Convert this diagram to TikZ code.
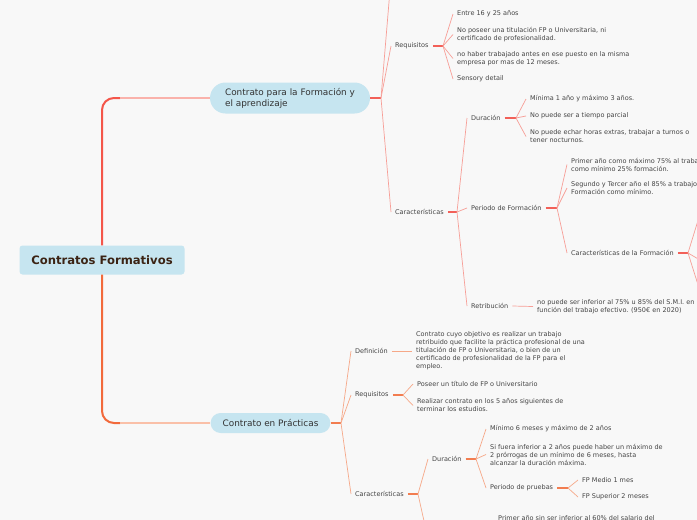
\documentclass[tikz,border=0pt]{standalone}
\usepackage{fontspec}
\setmainfont{DejaVu Sans}
\usetikzlibrary{positioning}
\definecolor{PaperBg}{HTML}{F8F8F8}
\definecolor{TopicBlue}{HTML}{C6E5F0}
\definecolor{RootInk}{HTML}{3B2314}
\definecolor{LeafInk}{HTML}{444444}
\definecolor{TrunkRed}{HTML}{F4564A}
\definecolor{TrunkOrange}{HTML}{F26A3C}
\definecolor{LinkRed}{HTML}{FAB2AB}
\definecolor{LinkOrange}{HTML}{FAC0A8}
\definecolor{TwigRed}{HTML}{F79E97}
\definecolor{TwigOrange}{HTML}{F6A888}
\definecolor{StubRed}{HTML}{F26058}
\definecolor{StubOrange}{HTML}{F27D50}

\begin{document}
\begin{tikzpicture}[
  x=1pt, y=-1pt,
  font=\fontsize{6.5}{8}\selectfont,
  root/.style={fill=TopicBlue, rounded corners=3pt, text=RootInk,
               font=\fontsize{11.6}{13}\selectfont\bfseries,
               minimum width=165pt, minimum height=29pt},
  topic/.style={fill=TopicBlue, rounded corners=#1, text=black!80, align=left,
                font=\fontsize{8.9}{11}\selectfont, inner xsep=13pt},
  leaf/.style={anchor=west, align=left, text=LeafInk, inner xsep=4pt, inner ysep=1pt},
  trunk/.style={draw=#1, line width=2pt, rounded corners=12pt},
  link/.style={draw=#1, line width=1.2pt},
  stub/.style={draw=#1, line width=1.3pt},
  twig/.style={draw=#1, line width=0.7pt},
]
  \clip (0,0) rectangle (697,520);
  \fill[PaperBg] (0,0) rectangle (697,520);

  \node[root] (cf) at (102,260) {Contratos Formativos};
  \node[topic=15.5pt, minimum width=160pt, minimum height=31pt] (tfa) at (290,98)
    {Contrato para la Formación y\\el aprendizaje};
  \node[topic=10pt, minimum width=119pt, minimum height=20pt, inner xsep=12pt] (tpr)
    at (270.5,423) {Contrato en Prácticas};

  \coordinate (kfa) at (120,98);
  \coordinate (kpr) at (120,423);
  \draw[trunk=TrunkRed] (cf.north) |- (kfa);
  \draw[link=LinkRed] (kfa) -- (tfa.west);
  \draw[trunk=TrunkOrange] (cf.south) |- (kpr);
  \draw[link=LinkOrange] (kpr) -- (tpr.west);

  % formacion y aprendizaje
  \coordinate (j1) at (381,98);
  \coordinate (up1) at (390,-10);
  \node[leaf] (req1) at (391,46) {Requisitos};
  \node[leaf] (car1) at (391,212) {Características};
  \draw[stub=StubRed] (tfa.east) -- (j1);
  \foreach \c in {req1.west, car1.west, up1} \draw[twig=TwigRed] (j1) -- (\c);

  \coordinate (j2) at (443,46);
  \node[leaf] (r1) at (453,14) {Entre 16 y 25 años};
  \node[leaf] (r2) at (453,34.5) {No poseer una titulación FP o Universitaria, ni\\certificado de profesionalidad.};
  \node[leaf] (r3) at (453,58.5) {no haber trabajado antes en ese puesto en la misma\\empresa por mas de 12 meses.};
  \node[leaf] (r4) at (453,79) {Sensory detail};
  \draw[stub=StubRed] (req1.east) -- (j2);
  \foreach \c in {r1,r2,r3,r4} \draw[twig=TwigRed] (j2) -- (\c.west);

  \coordinate (j3) at (457,212);
  \node[leaf] (dur1) at (467,118) {Duración};
  \node[leaf] (per1) at (467,208) {Periodo de Formación};
  \node[leaf] (ret1) at (467,306) {Retribución};
  \draw[stub=StubRed] (car1.east) -- (j3);
  \foreach \c in {dur1,per1,ret1} \draw[twig=TwigRed] (j3) -- (\c.west);

  \coordinate (j4) at (516,118);
  \node[leaf] (d1) at (526,99) {Mínima 1 año y máximo 3 años.};
  \node[leaf] (d2) at (526,116) {No puede ser a tiempo parcial};
  \node[leaf] (d3) at (526,136.5) {No puede echar horas extras, trabajar a turnos o\\tener nocturnos.};
  \draw[stub=StubRed] (dur1.east) -- (j4);
  \foreach \c in {d1,d2,d3} \draw[twig=TwigRed] (j4) -- (\c.west);

  \coordinate (j5) at (557,208);
  \node[leaf] (p1) at (567,164.5) {Primer año como máximo 75\% al trabajo y\\como mínimo 25\% formación.};
  \node[leaf] (p2) at (567,188) {Segundo y Tercer año el 85\% a trabajo y\\Formación como mínimo.};
  \node[leaf] (p3) at (567,253) {Características de la Formación};
  \draw[stub=StubRed] (per1.east) -- (j5);
  \foreach \c in {p1,p2,p3} \draw[twig=TwigRed] (j5) -- (\c.west);

  \coordinate (j6) at (688,253);
  \coordinate (o1) at (700,214);
  \coordinate (o2) at (700,260);
  \coordinate (o3) at (700,291);
  \draw[stub=StubRed] (p3.east) -- (j6);
  \foreach \c in {o1,o2,o3} \draw[twig=TwigRed] (j6) -- (\c);

  \node[leaf] (rt) at (533,306.5) {no puede ser inferior al 75\% u 85\% del S.M.I. en\\función del trabajo efectivo. (950€ en 2020)};
  \draw[twig=TwigRed] (ret1.east) -- (rt.west);

  % practicas
  \coordinate (j7) at (341,423);
  \node[leaf] (def2) at (351,351) {Definición};
  \node[leaf] (req2) at (351,395) {Requisitos};
  \node[leaf] (car2) at (351,494) {Características};
  \draw[stub=StubOrange] (tpr.east) -- (j7);
  \foreach \c in {def2,req2,car2} \draw[twig=TwigOrange] (j7) -- (\c.west);

  \node[leaf] (dft) at (412,351) {Contrato cuyo objetivo es realizar un trabajo\\retribuido que facilite la práctica profesional de una\\titulación de FP o Universitaria, o bien de un\\certificado de profesionalidad de la FP para el\\empleo.};
  \draw[twig=TwigOrange] (def2.east) -- (dft.west);

  \coordinate (j8) at (403,395);
  \node[leaf] (q1) at (413,384) {Poseer un título de FP o Universitario};
  \node[leaf] (q2) at (413,405.5) {Realizar contrato en los 5 años siguientes de\\terminar los estudios.};
  \draw[stub=StubOrange] (req2.east) -- (j8);
  \foreach \c in {q1,q2} \draw[twig=TwigOrange] (j8) -- (\c.west);

  \coordinate (j9) at (418,494);
  \coordinate (dn) at (426,530);
  \node[leaf] (dur2) at (428,459) {Duración};
  \draw[stub=StubOrange] (car2.east) -- (j9);
  \foreach \c in {dur2.west,dn} \draw[twig=TwigOrange] (j9) -- (\c);

  \coordinate (j10) at (476,459);
  \node[leaf] (e1) at (486,429) {Mínimo 6 meses y máximo de 2 años};
  \node[leaf] (e2) at (486,454.5) {Si fuera inferior a 2 años puede haber un máximo de\\2 prórrogas de un mínimo de 6 meses, hasta\\alcanzar la duración máxima.};
  \node[leaf] (e3) at (486,488) {Periodo de pruebas};
  \draw[stub=StubOrange] (dur2.east) -- (j10);
  \foreach \c in {e1,e2,e3} \draw[twig=TwigOrange] (j10) -- (\c.west);

  \coordinate (j11) at (568,488);
  \node[leaf] (f1) at (578,480) {FP Medio 1 mes};
  \node[leaf] (f2) at (578,497) {FP Superior 2 meses};
  \draw[stub=StubOrange] (e3.east) -- (j11);
  \foreach \c in {f1,f2} \draw[twig=TwigOrange] (j11) -- (\c.west);

  \node[leaf] (pr1) at (494,518) {Primer año sin ser inferior al 60\% del salario del};
\end{tikzpicture}
\end{document}
